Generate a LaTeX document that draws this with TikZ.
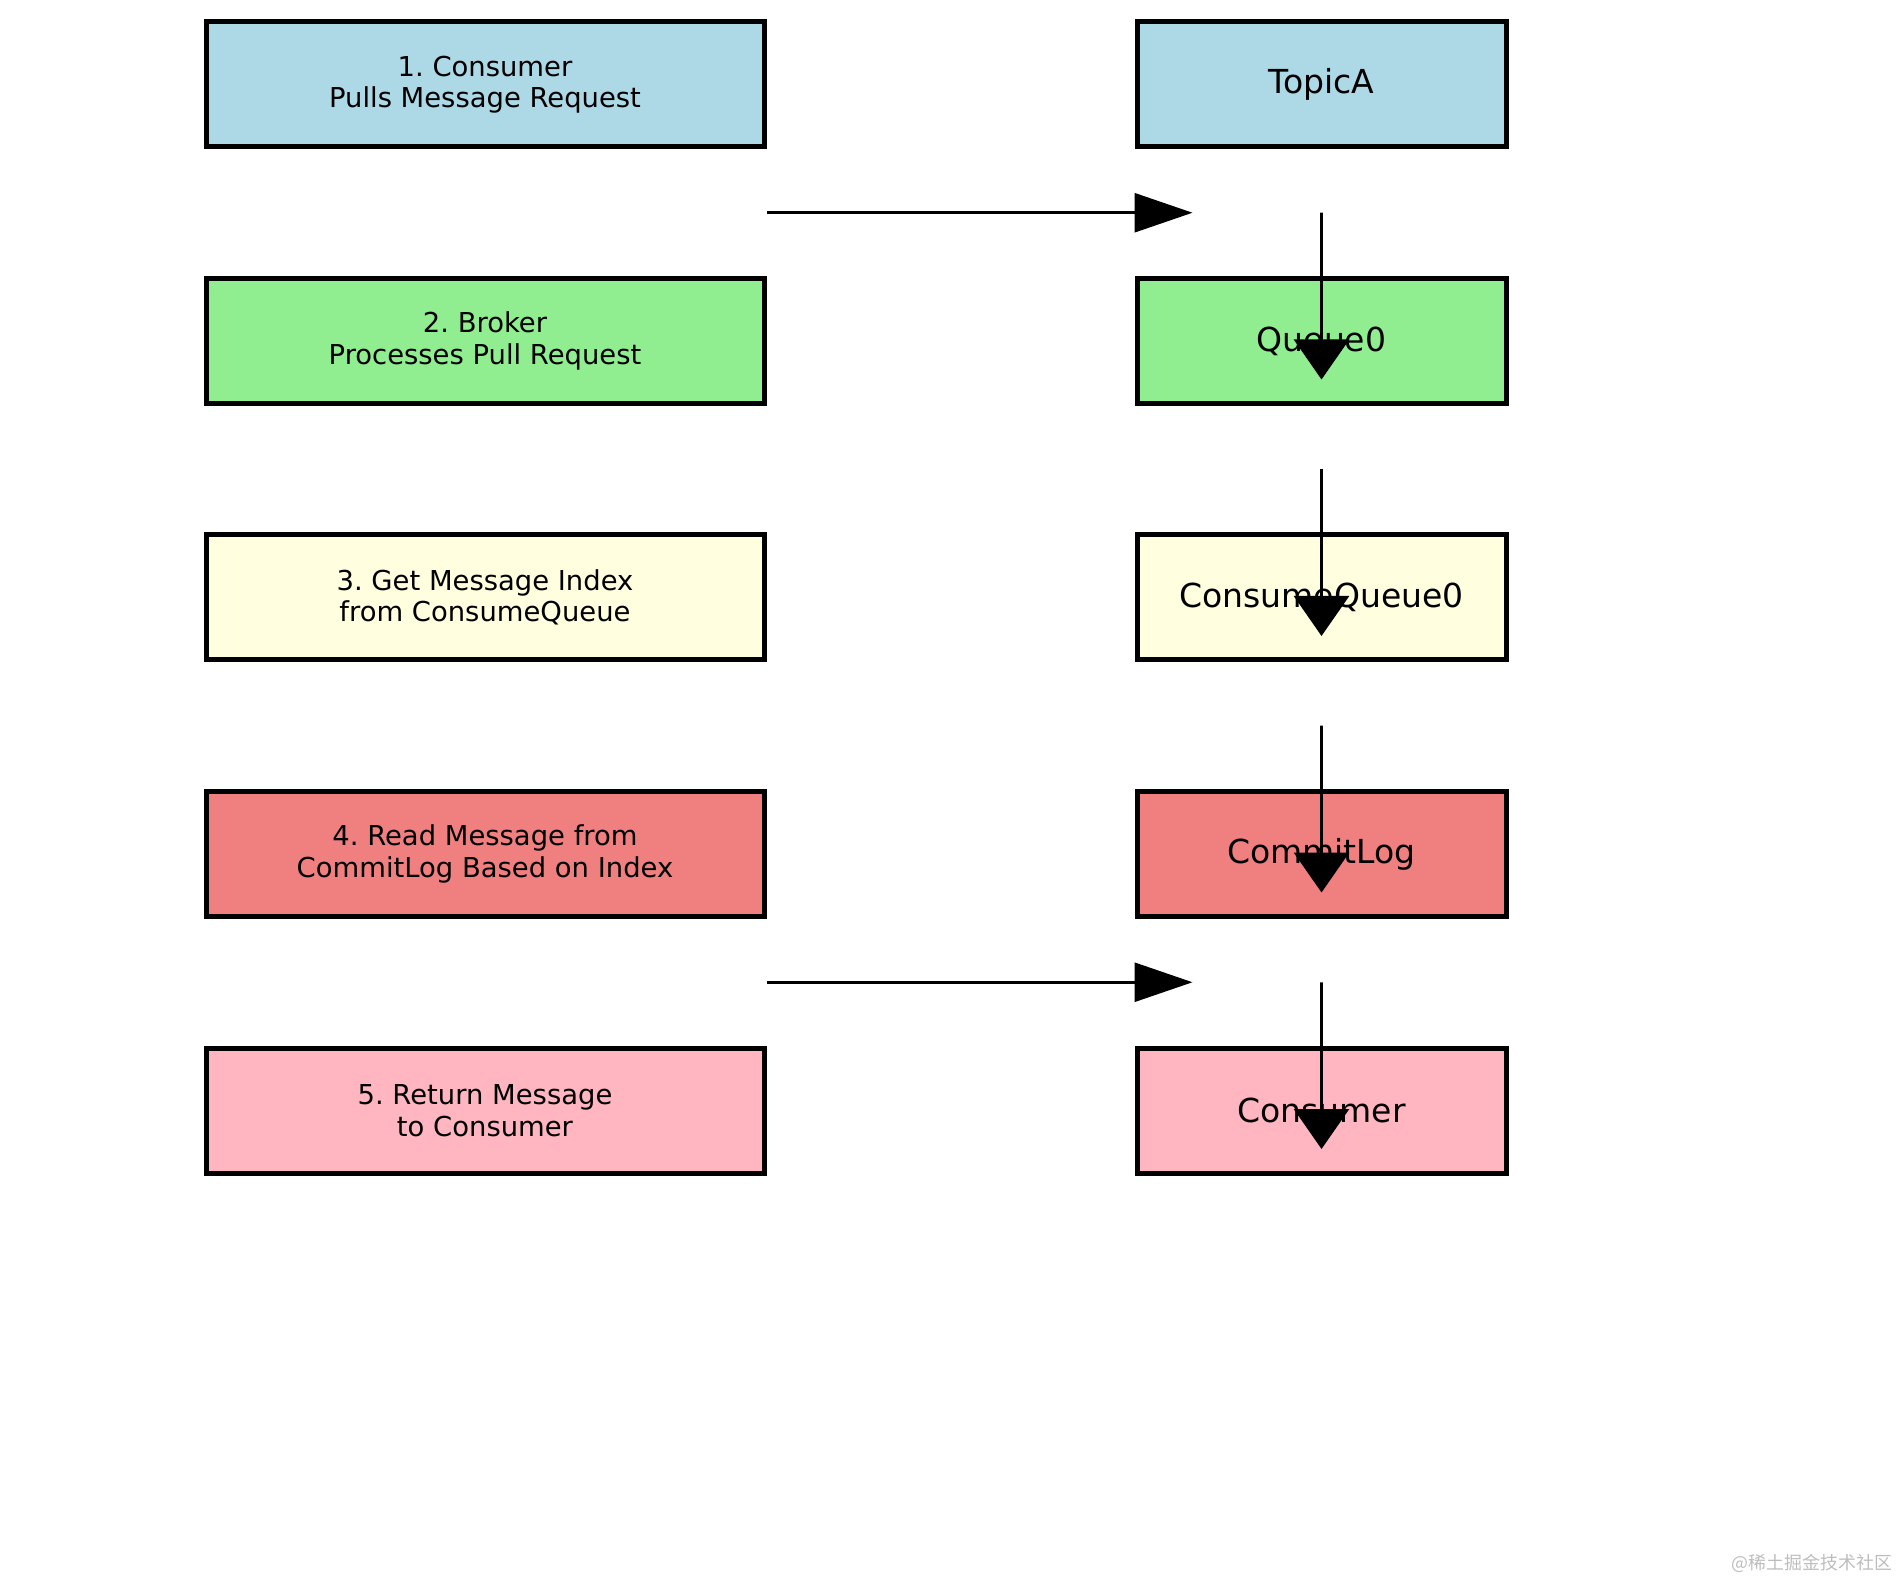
\documentclass[tikz,border=0pt]{standalone}
\usepackage{fontspec}
\setmainfont{DejaVu Sans}
\newfontfamily\cjk{Noto Sans CJK SC}
\usetikzlibrary{arrows.meta}
\usetikzlibrary{calc}
\usetikzlibrary{positioning}
\definecolor{lightblue}{HTML}{ADD8E6}
\definecolor{lightgreen}{HTML}{90EE90}
\definecolor{lightyellow}{HTML}{FFFFE0}
\definecolor{lightcoral}{HTML}{F08080}
\definecolor{lightpink}{HTML}{FFB6C1}
\definecolor{markgray}{HTML}{BDBDBD}
\frenchspacing
\tikzset{
  box/.style={
    draw,
    rectangle,
    line width=0.5mm,
    minimum height=12.5mm,
    node distance=12.65mm and 36.8mm,
    inner sep=0,
  },
  stepbox/.style={
    box,
    minimum width=55.8mm,
    node font=\fontsize{7.8}{8.95}\selectfont,
    align=center,
  },
  partbox/.style={
    box,
    minimum width=36.9mm,
    node font=\fontsize{9.4}{11}\selectfont,
  },
  flow/.style={
    draw,
    line width=0.28mm,
    -{Triangle[length=5.8mm,width=3.9mm]},
  },
  downflow/.style={
    flow,
    -{Triangle[length=4mm,width=5.5mm]},
  },
  watermark/.style={
    markgray,
    node font=\cjk\fontsize{5.1}{6}\selectfont,
    anchor=east,
    inner sep=0,
  }
}

\begin{document}
\begin{tikzpicture}
  \useasboundingbox (0,0) rectangle (19,-15.8);

  \node (pull)      [stepbox,fill=lightblue] at (4.85,-0.845)   {1. Consumer\\Pulls Message Request};
  \node (process)   [stepbox,fill=lightgreen,below=of pull]      {2. Broker\\Processes Pull Request};
  \node (index)     [stepbox,fill=lightyellow,below=of process]  {3. Get Message Index\\from ConsumeQueue};
  \node (read)      [stepbox,fill=lightcoral,below=of index]     {4. Read Message from\\CommitLog Based on Index};
  \node (return)    [stepbox,fill=lightpink,below=of read]       {5. Return Message\\to Consumer};

  \node (topic)     [partbox,fill=lightblue,right=of pull]       {TopicA};
  \node (queue)     [partbox,fill=lightgreen,right=of process]   {Queue0};
  \node (cqueue)    [partbox,fill=lightyellow,right=of index]    {ConsumeQueue0};
  \node (commitlog) [partbox,fill=lightcoral,right=of read]      {CommitLog};
  \node (consumer)  [partbox,fill=lightpink,right=of return]     {Consumer};

  \coordinate (pull start) at ($(pull.south east)!.5!(process.north east)$);
  \coordinate (pull end)   at ([xshift=5.8mm]pull start -| topic.west);
  \coordinate (read start) at ($(read.south east)!.5!(return.north east)$);
  \coordinate (read end)   at ([xshift=5.8mm]read start -| consumer.west);

  \path [flow] (pull start) -- (pull end);
  \path [flow] (read start) -- (read end);

  \path [downflow] ($(topic.south)!.5!(queue.north)$) -- ([yshift=-3.85mm]queue.center);
  \path [downflow] ($(queue.south)!.5!(cqueue.north)$) -- ([yshift=-3.85mm]cqueue.center);
  \path [downflow] ($(cqueue.south)!.5!(commitlog.north)$) -- ([yshift=-3.85mm]commitlog.center);
  \path [downflow] ($(commitlog.south)!.5!(consumer.north)$) -- ([yshift=-3.85mm]consumer.center);

  \node (mark) [watermark] at (18.93,-15.63) {@稀土掘金技术社区};
\end{tikzpicture}
\end{document}
